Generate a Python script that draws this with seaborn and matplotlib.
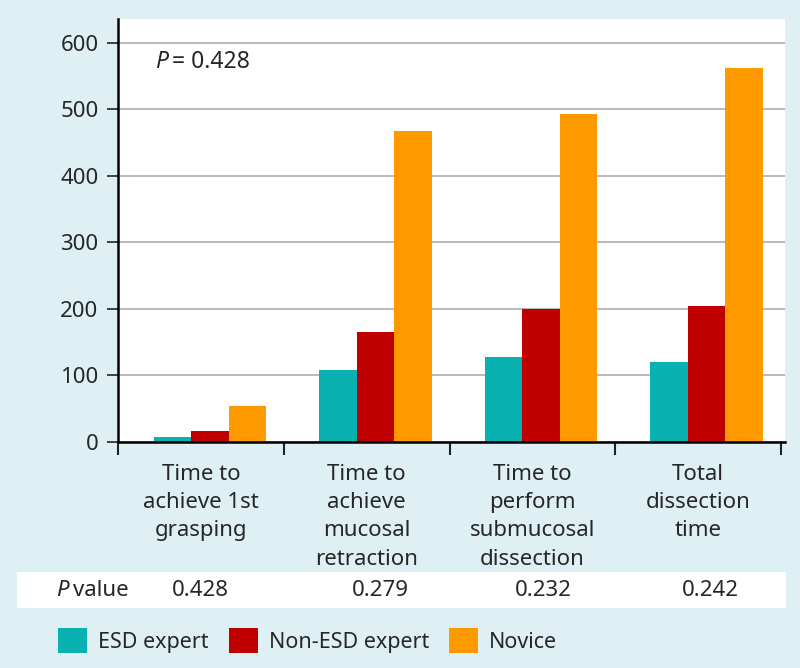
import matplotlib
matplotlib.use("Agg")
import matplotlib.pyplot as plt
import seaborn as sns
import pandas as pd
from matplotlib.patches import Rectangle

categories = ["Time to\nachieve 1st\ngrasping",
              "Time to\nachieve\nmucosal\nretraction",
              "Time to\nperform\nsubmucosal\ndissection",
              "Total\ndissection\ntime"]
groups = ["ESD expert", "Non-ESD expert", "Novice"]
esd_expert = [8, 109, 128, 121]
non_esd_expert = [17, 166, 200, 204]
novice = [54, 467, 493, 563]
p_values = ["0.428", "0.279", "0.232", "0.242"]
overall_p = "= 0.428"

colors = ["#0AB1B1", "#C00000", "#FF9900"]
bg = "#DEF0F4"

rows = []
for g, vals in zip(groups, [esd_expert, non_esd_expert, novice]):
    for c, v in zip(categories, vals):
        rows.append({"task": c, "group": g, "time": v})
df = pd.DataFrame(rows)

sns.set_style("white")
plt.rcParams["font.family"] = ["Noto Sans", "DejaVu Sans"]

W, H = 800, 668
fig = plt.figure(figsize=(W / 100, H / 100), dpi=100, facecolor=bg)
ax = fig.add_axes([118 / W, 1 - 442 / H, (785 - 118) / W, (442 - 19) / H])
ax.set_facecolor("white")

sns.barplot(data=df, x="task", y="time", hue="group", palette=colors,
            width=0.68, gap=0, saturation=1, linewidth=0, ax=ax,
            order=categories, hue_order=groups, errorbar=None)

ax.set_ylim(0, 636)
ax.set_xlim(-0.556, 3.474)
ax.set_yticks([0, 100, 200, 300, 400, 500, 600])
ax.tick_params(axis="y", which="major", direction="out", length=8, width=1.3,
               color="#333333", labelsize=16, pad=6, left=True)
off = 0.053
ax.set_xticks([k - off for k in range(len(categories))])
ax.set_xticklabels(categories, fontsize=16, linespacing=1.46, va="top")
ax.tick_params(axis="x", which="major", length=0, pad=15.5)
ax.set_xticks([k - 0.553 for k in range(len(categories) + 1)], minor=True)
ax.tick_params(axis="x", which="minor", direction="out", length=9.5, width=1.5,
               color="#222222", bottom=True)
ax.set_xlabel("")
ax.set_ylabel("")
ax.yaxis.grid(True, color="#B4B4B4", linewidth=1.3)
ax.set_axisbelow(True)
for s in ["top", "right"]:
    ax.spines[s].set_visible(False)
for s in ["left", "bottom"]:
    ax.spines[s].set_color("black")
    ax.spines[s].set_linewidth(1.8)
    ax.spines[s].set_zorder(5)

# overall P
fig.text(155 / W, 1 - 62 / H, "P", fontsize=16.5, style="italic", va="center", ha="left")
fig.text(172 / W, 1 - 62 / H, overall_p, fontsize=16.5, va="center", ha="left")

# P value row
fig.patches.append(Rectangle((17 / W, 1 - 608 / H), (786 - 17) / W, 36 / H,
                             transform=fig.transFigure, facecolor="white",
                             edgecolor="none", zorder=0))
yrow = 1 - 590 / H
fig.text(56 / W, yrow, "P", fontsize=16, style="italic", va="center", ha="left")
fig.text(73 / W, yrow, "value", fontsize=16, va="center", ha="left")
for px, pv in zip([200, 380, 543.5, 710], p_values):
    fig.text(px / W, yrow, pv, fontsize=16, va="center", ha="center")

# legend
leg = ax.get_legend()
handles = leg.legend_handles
leg.remove()
fig.legend(handles, groups, loc="center left", bbox_to_anchor=(58 / W, 1 - 640.5 / H),
           frameon=False, fontsize=15.5, ncol=3, handlelength=1.35, handleheight=1.35,
           handletextpad=0.5, columnspacing=0.95, borderpad=0, borderaxespad=0)

fig.savefig("out.png", dpi=100, facecolor=bg)
